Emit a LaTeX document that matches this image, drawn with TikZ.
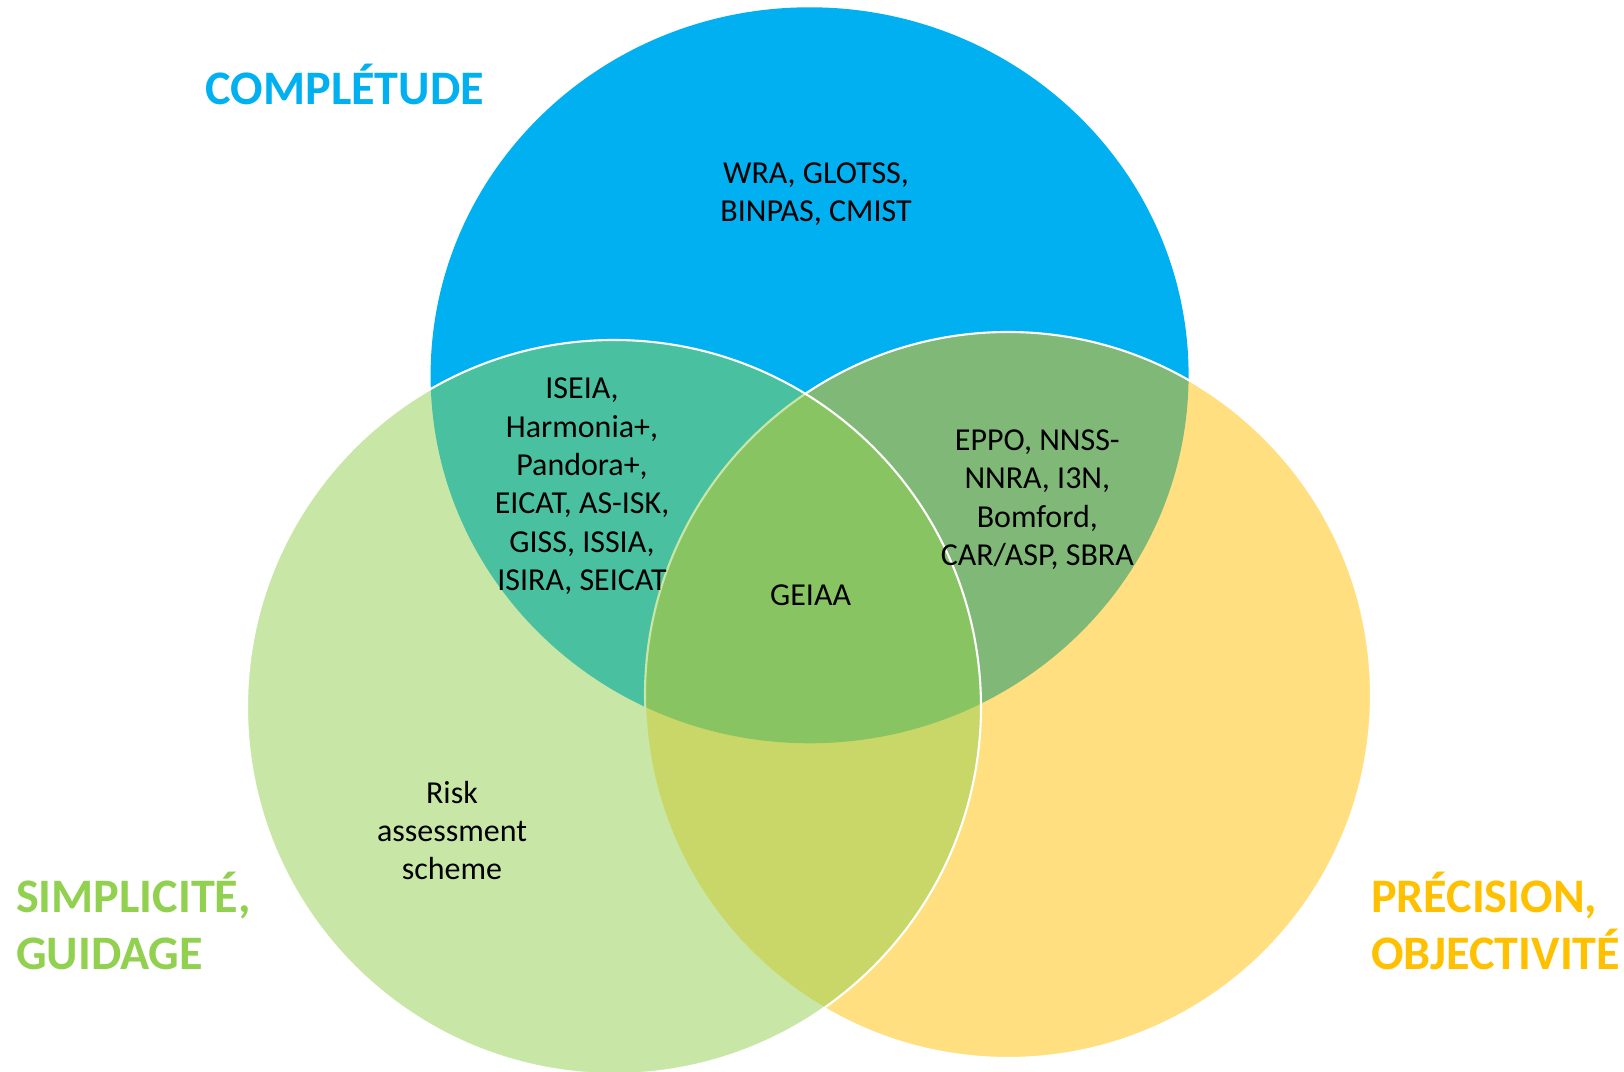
\documentclass[tikz,border=0pt]{standalone}
\usepackage{fontspec}
\setmainfont{Carlito}
\usepackage{tikz}
\usetikzlibrary{positioning}
\definecolor{completude}{HTML}{00B0F0}
\definecolor{simplicite}{HTML}{92D050}
\definecolor{precision}{HTML}{FFC000}
\tikzset{
	venn/.style={draw=white, line width=0.6pt, fill opacity=0.5},
	tool/.style={inner sep=0pt, align=center, font=\fontsize{9.1}{10.9}\selectfont},
	criterion/.style={inner sep=0pt, align=left, font=\fontsize{13.7}{16.15}\selectfont\bfseries}
}

\begin{document}
\begin{tikzpicture}
	\useasboundingbox (0,0) rectangle (16.24,-10.72);
	
	% the three sets
	\fill[completude] (8.096,-3.753) ellipse (3.79 and 3.68);
	\path[venn, fill=precision] (10.08,-6.95) circle (3.63);
	\path[venn, fill=simplicite] (6.14,-7.07) circle (3.67);
	
	\node[criterion, text=completude, anchor=base west] (completude) at (2.05,-1.043) {COMPLÉTUDE};
	\node[criterion, text=simplicite, anchor=south west] (simplicite) at (0.155,-9.708) {SIMPLICITÉ,\\GUIDAGE};
	\node[criterion, text=precision, anchor=south west] (precision) at (13.703,-9.708) {PRÉCISION,\\OBJECTIVITÉ};
	
	\node[tool] (c-only) at (8.16,-1.94) {WRA, GLOTSS,\\BINPAS, CMIST}; %completude
	\node[tool] (c-s) at (5.82,-4.863) {ISEIA,\\Harmonia+,\\Pandora+,\\EICAT, AS-ISK,\\GISS, ISSIA,\\ISIRA, SEICAT}; %completude + simplicite
	\node[tool] (c-p) at (10.373,-4.998) {EPPO, NNSS-\\NNRA, I3N,\\Bomford,\\CAR/ASP, SBRA}; %completude + precision
	\node[tool] (c-s-p) at (8.106,-5.957) {GEIAA}; %all three
	\node[tool] (s-only) at (4.52,-8.304) {Risk\\assessment\\scheme}; %simplicite
\end{tikzpicture}
\end{document}
